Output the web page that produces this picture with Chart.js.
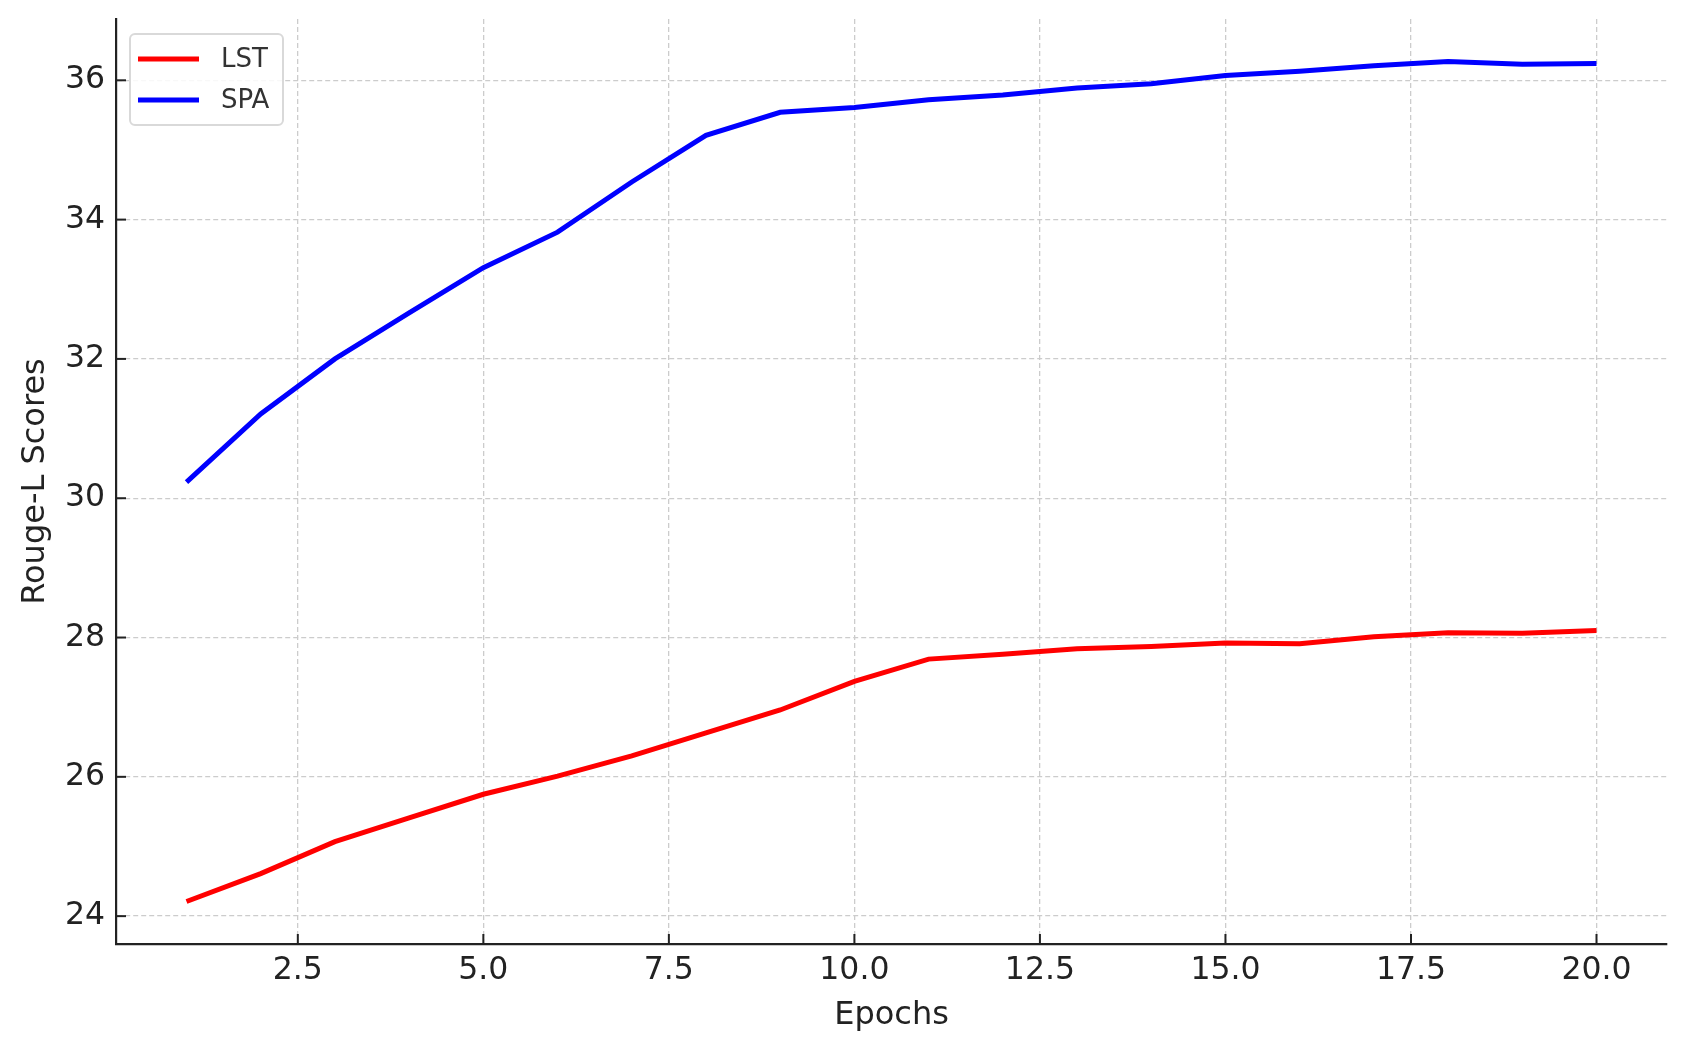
<!DOCTYPE html>
<html>
<head>
<meta charset="utf-8">
<script src="https://cdn.jsdelivr.net/npm/chart.js@4.4.1/dist/chart.umd.min.js"></script>
<style>
  html,body{margin:0;padding:0;background:#fff;}
  canvas{display:block;}
</style>
</head>
<body>
<canvas id="c" width="1686" height="1050"></canvas>
<script>
// data
const epochs=[1,2,3,4,5,6,7,8,9,10,11,12,13,14,15,16,17,18,19,20];
const lst=[24.21,24.61,25.07,25.41,25.75,26.01,26.30,26.63,26.96,27.37,27.69,27.76,27.84,27.87,27.92,27.91,28.01,28.07,28.06,28.10];
const spa=[30.23,31.21,32.0,32.66,33.31,33.82,34.54,35.21,35.54,35.61,35.72,35.79,35.89,35.95,36.07,36.13,36.21,36.27,36.23,36.24];
const xTicks=[2.5,5,7.5,10,12.5,15,17.5,20];
const yTicks=[24,26,28,30,32,34,36];

const FONT="'DejaVu Sans', sans-serif";
const GRID="#cccccc";
const AXIS="#222222";

// matplotlib style: ticks point into the plot
const innerTicks={
  id:"innerTicks",
  afterDraw(chart){
    const c=chart.ctx, a=chart.chartArea, sx=chart.scales.x, sy=chart.scales.y;
    c.save();
    c.strokeStyle=AXIS; c.lineWidth=2;
    xTicks.forEach(v=>{ const x=sx.getPixelForValue(v); c.beginPath(); c.moveTo(x,a.bottom); c.lineTo(x,a.bottom-10); c.stroke(); });
    yTicks.forEach(v=>{ const y=sy.getPixelForValue(v); c.beginPath(); c.moveTo(a.left,y); c.lineTo(a.left+10,y); c.stroke(); });
    c.restore();
  }
};

// legend box in the upper left corner of the plot
const boxLegend={
  id:"boxLegend",
  afterDraw(chart){
    const c=chart.ctx, a=chart.chartArea;
    const x0=a.left+14, y0=a.top+15, w=153, h=91;
    c.save();
    c.fillStyle="rgba(255,255,255,0.85)";
    c.strokeStyle="#d9d9d9"; c.lineWidth=2;
    c.beginPath(); c.roundRect(x0,y0,w,h,5); c.fill(); c.stroke();
    c.font="26px "+FONT; c.textBaseline="middle"; c.fillStyle="#333";
    chart.data.datasets.forEach((ds,i)=>{
      const y=y0+25+i*41;
      c.strokeStyle=ds.borderColor; c.lineWidth=ds.borderWidth;
      c.beginPath(); c.moveTo(x0+8,y); c.lineTo(x0+69,y); c.stroke();
      c.fillText(ds.label,x0+91,y+1);
    });
    c.restore();
  }
};

function noPad(s){ s.paddingTop=0; s.paddingBottom=0; s.paddingLeft=0; s.paddingRight=0; }

new Chart(document.getElementById("c"),{
  type:"line",
  data:{
    labels:epochs,
    datasets:[
      {label:"LST",data:epochs.map((e,i)=>({x:e,y:lst[i]})),borderColor:"#ff0000",backgroundColor:"#ff0000",borderWidth:5,pointRadius:0,tension:0},
      {label:"SPA",data:epochs.map((e,i)=>({x:e,y:spa[i]})),borderColor:"#0000ff",backgroundColor:"#0000ff",borderWidth:5,pointRadius:0,tension:0}
    ]
  },
  options:{
    responsive:false,
    animation:false,
    layout:{padding:{top:19,right:19,left:0,bottom:0}},
    plugins:{legend:{display:false},tooltip:{enabled:false}},
    scales:{
      x:{
        type:"linear",min:0.05,max:20.95,
        afterBuildTicks:s=>{ s.ticks=xTicks.map(v=>({value:v})); },
        afterFit:s=>{ s.height=106; noPad(s); },
        ticks:{color:AXIS,font:{family:FONT,size:31.5},padding:8,maxRotation:0,callback:v=>Number(v).toFixed(1)},
        grid:{color:GRID,lineWidth:1.3,drawTicks:false},
        border:{display:true,color:AXIS,width:2.2,dash:[5,3]},
        title:{display:true,text:"Epochs",color:AXIS,font:{family:FONT,size:32},padding:{top:4,bottom:15}}
      },
      y:{
        min:23.6,max:36.88,
        afterBuildTicks:s=>{ s.ticks=yTicks.map(v=>({value:v})); },
        afterFit:s=>{ s.width=116; noPad(s); },
        ticks:{color:AXIS,font:{family:FONT,size:31.5},padding:11,callback:v=>String(v)},
        grid:{color:GRID,lineWidth:1.3,drawTicks:false},
        border:{display:true,color:AXIS,width:2.2,dash:[5,3]},
        title:{display:true,text:"Rouge-L Scores",color:AXIS,font:{family:FONT,size:32},padding:{top:16,bottom:4}}
      }
    }
  },
  plugins:[innerTicks,boxLegend]
});
</script>
</body>
</html>
